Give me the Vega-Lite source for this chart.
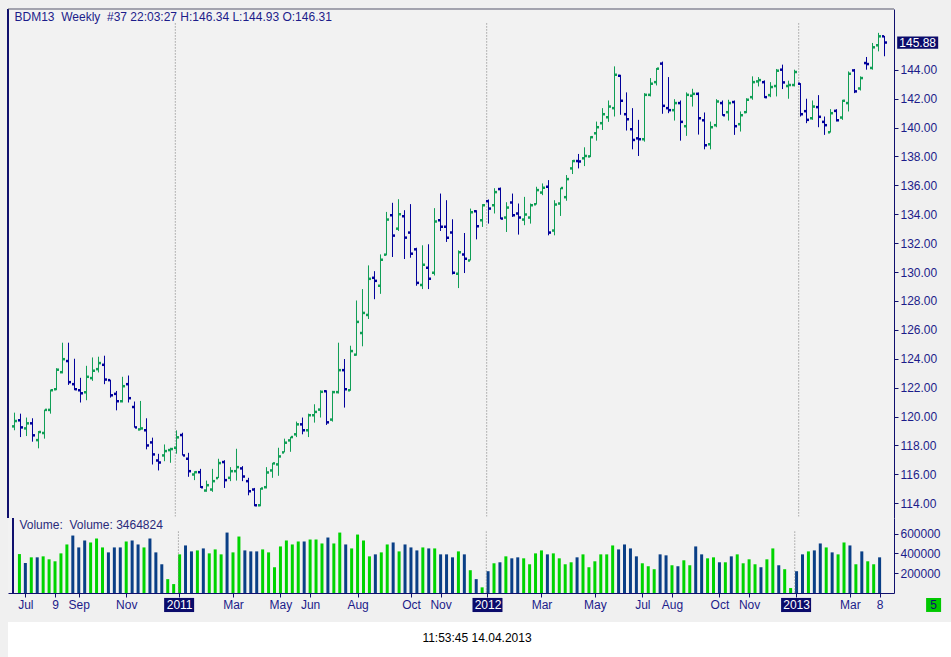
{
"$schema": "https://vega.github.io/schema/vega-lite/v6.json",
"background": "#f0f0f0",
"padding": {"left": 7, "top": 8, "right": 0, "bottom": 0},
"config": {"view": {"fill": "#f2f2f2", "stroke": null}, "font": "Liberation Sans"},
"datasets": {"bars": [
{"i":0,"o":119.32,"h":120.27,"l":119.05,"c":119.69,"v":393000},
{"i":1,"o":119.74,"h":120.2,"l":118.58,"c":119.25,"v":303000},
{"i":2,"o":119.18,"h":119.93,"l":118.65,"c":119.53,"v":360000},
{"i":3,"o":119.53,"h":119.88,"l":118.26,"c":118.7,"v":360000},
{"i":4,"o":118.37,"h":119.0,"l":117.8,"c":118.93,"v":370000},
{"i":5,"o":118.86,"h":120.48,"l":118.47,"c":120.46,"v":340000},
{"i":6,"o":120.46,"h":121.87,"l":120.2,"c":121.82,"v":320000},
{"i":7,"o":121.89,"h":123.35,"l":121.82,"c":123.24,"v":400000},
{"i":8,"o":123.07,"h":125.11,"l":122.98,"c":123.97,"v":490000},
{"i":9,"o":123.84,"h":125.11,"l":122.19,"c":122.38,"v":580000},
{"i":10,"o":122.24,"h":124.0,"l":121.82,"c":121.89,"v":460000},
{"i":11,"o":121.82,"h":122.68,"l":120.97,"c":121.61,"v":530000},
{"i":12,"o":121.68,"h":123.51,"l":121.13,"c":122.75,"v":510000},
{"i":13,"o":122.66,"h":124.09,"l":122.47,"c":123.17,"v":550000},
{"i":14,"o":123.28,"h":124.14,"l":123.05,"c":123.7,"v":460000},
{"i":15,"o":123.58,"h":124.21,"l":122.24,"c":122.56,"v":410000},
{"i":16,"o":122.52,"h":122.55,"l":121.31,"c":121.47,"v":460000},
{"i":17,"o":121.57,"h":121.77,"l":120.43,"c":121.06,"v":460000},
{"i":18,"o":121.06,"h":122.75,"l":120.97,"c":122.1,"v":520000},
{"i":19,"o":122.24,"h":122.84,"l":120.97,"c":121.27,"v":530000},
{"i":20,"o":120.66,"h":121.04,"l":119.23,"c":119.25,"v":490000},
{"i":21,"o":119.11,"h":121.08,"l":119.05,"c":119.18,"v":460000},
{"i":22,"o":119.05,"h":119.88,"l":117.73,"c":118.0,"v":550000},
{"i":23,"o":118.21,"h":118.54,"l":116.68,"c":117.38,"v":410000},
{"i":24,"o":116.96,"h":117.42,"l":116.27,"c":116.82,"v":290000},
{"i":25,"o":117.31,"h":118.07,"l":116.91,"c":117.61,"v":140000},
{"i":26,"o":117.68,"h":117.84,"l":116.8,"c":117.75,"v":90000},
{"i":27,"o":117.84,"h":119.04,"l":117.43,"c":118.56,"v":390000},
{"i":28,"o":118.72,"h":118.88,"l":117.3,"c":117.31,"v":480000},
{"i":29,"o":117.08,"h":117.49,"l":115.83,"c":116.22,"v":420000},
{"i":30,"o":115.99,"h":116.22,"l":115.6,"c":116.15,"v":430000},
{"i":31,"o":116.15,"h":116.38,"l":115.06,"c":115.11,"v":450000},
{"i":32,"o":114.88,"h":115.57,"l":114.79,"c":115.25,"v":400000},
{"i":33,"o":114.95,"h":116.38,"l":114.79,"c":115.53,"v":440000},
{"i":34,"o":115.74,"h":117.08,"l":115.74,"c":116.78,"v":390000},
{"i":35,"o":116.85,"h":116.98,"l":115.06,"c":115.6,"v":610000},
{"i":36,"o":115.76,"h":116.5,"l":115.53,"c":116.22,"v":410000},
{"i":37,"o":116.22,"h":117.77,"l":115.57,"c":116.5,"v":570000},
{"i":38,"o":116.41,"h":116.57,"l":115.53,"c":115.85,"v":430000},
{"i":39,"o":115.53,"h":115.76,"l":114.55,"c":114.83,"v":420000},
{"i":40,"o":114.95,"h":115.06,"l":113.79,"c":113.86,"v":420000},
{"i":41,"o":113.86,"h":115.06,"l":113.79,"c":115.02,"v":440000},
{"i":42,"o":115.11,"h":116.5,"l":115.02,"c":116.13,"v":410000},
{"i":43,"o":116.27,"h":116.8,"l":115.76,"c":116.76,"v":260000},
{"i":44,"o":116.69,"h":117.84,"l":115.9,"c":117.24,"v":470000},
{"i":45,"o":117.52,"h":118.47,"l":117.52,"c":118.19,"v":530000},
{"i":46,"o":118.35,"h":118.6,"l":117.56,"c":118.58,"v":490000},
{"i":47,"o":118.77,"h":119.65,"l":118.58,"c":119.46,"v":520000},
{"i":48,"o":119.46,"h":119.93,"l":118.77,"c":119.05,"v":520000},
{"i":49,"o":119.05,"h":120.2,"l":118.58,"c":120.09,"v":540000},
{"i":50,"o":120.09,"h":120.85,"l":119.58,"c":120.32,"v":540000},
{"i":51,"o":120.48,"h":121.82,"l":119.93,"c":121.71,"v":500000},
{"i":52,"o":121.75,"h":121.82,"l":119.42,"c":119.6,"v":560000},
{"i":53,"o":119.79,"h":121.78,"l":119.65,"c":121.69,"v":500000},
{"i":54,"o":121.69,"h":125.11,"l":121.59,"c":123.21,"v":610000},
{"i":55,"o":123.21,"h":123.98,"l":120.62,"c":121.89,"v":490000},
{"i":56,"o":121.82,"h":124.9,"l":121.78,"c":124.53,"v":450000},
{"i":57,"o":124.28,"h":128.03,"l":124.21,"c":126.55,"v":590000},
{"i":58,"o":125.78,"h":128.82,"l":124.86,"c":127.17,"v":530000},
{"i":59,"o":127.03,"h":130.46,"l":126.75,"c":129.53,"v":370000},
{"i":60,"o":129.6,"h":130.06,"l":128.12,"c":129.39,"v":390000},
{"i":61,"o":129.05,"h":131.22,"l":128.49,"c":130.85,"v":410000},
{"i":62,"o":131.2,"h":134.16,"l":131.15,"c":133.63,"v":490000},
{"i":63,"o":133.93,"h":134.79,"l":131.04,"c":132.52,"v":510000},
{"i":64,"o":133.0,"h":135.04,"l":132.84,"c":134.0,"v":420000},
{"i":65,"o":133.86,"h":134.28,"l":130.9,"c":132.38,"v":490000},
{"i":66,"o":132.73,"h":134.7,"l":130.99,"c":131.27,"v":460000},
{"i":67,"o":131.57,"h":131.68,"l":129.05,"c":129.25,"v":430000},
{"i":68,"o":129.11,"h":131.85,"l":128.82,"c":130.5,"v":460000},
{"i":69,"o":130.3,"h":131.92,"l":128.82,"c":129.53,"v":450000},
{"i":70,"o":129.95,"h":134.42,"l":129.76,"c":133.49,"v":450000},
{"i":71,"o":133.58,"h":135.43,"l":132.84,"c":133.14,"v":390000},
{"i":72,"o":133.14,"h":134.97,"l":132.08,"c":132.38,"v":390000},
{"i":73,"o":132.73,"h":133.65,"l":129.83,"c":129.95,"v":360000},
{"i":74,"o":129.88,"h":131.5,"l":128.89,"c":131.36,"v":420000},
{"i":75,"o":131.22,"h":132.7,"l":129.93,"c":130.92,"v":390000},
{"i":76,"o":130.8,"h":134.39,"l":130.8,"c":134.14,"v":230000},
{"i":77,"o":134.21,"h":134.28,"l":132.26,"c":133.17,"v":140000},
{"i":78,"o":133.58,"h":134.7,"l":133.12,"c":134.62,"v":57000},
{"i":79,"o":134.9,"h":135.02,"l":133.35,"c":134.39,"v":220000},
{"i":80,"o":134.62,"h":135.8,"l":134.05,"c":135.53,"v":300000},
{"i":81,"o":135.74,"h":135.85,"l":133.65,"c":133.7,"v":310000},
{"i":82,"o":133.77,"h":134.83,"l":132.77,"c":134.46,"v":370000},
{"i":83,"o":134.81,"h":135.43,"l":133.81,"c":133.93,"v":350000},
{"i":84,"o":134.05,"h":134.74,"l":132.59,"c":133.77,"v":360000},
{"i":85,"o":133.63,"h":135.2,"l":133.24,"c":133.98,"v":350000},
{"i":86,"o":133.77,"h":134.74,"l":133.35,"c":134.62,"v":290000},
{"i":87,"o":134.69,"h":135.9,"l":134.67,"c":135.67,"v":400000},
{"i":88,"o":135.5,"h":136.13,"l":135.32,"c":135.83,"v":430000},
{"i":89,"o":135.9,"h":136.36,"l":132.54,"c":132.73,"v":390000},
{"i":90,"o":132.87,"h":134.97,"l":132.54,"c":134.67,"v":400000},
{"i":91,"o":134.74,"h":135.83,"l":133.88,"c":135.81,"v":350000},
{"i":92,"o":135.18,"h":136.71,"l":134.93,"c":136.43,"v":290000},
{"i":93,"o":137.17,"h":137.75,"l":136.78,"c":137.68,"v":310000},
{"i":94,"o":137.68,"h":138.17,"l":137.17,"c":137.65,"v":360000},
{"i":95,"o":137.87,"h":138.63,"l":137.33,"c":138.03,"v":390000},
{"i":96,"o":138.0,"h":139.4,"l":137.95,"c":139.33,"v":260000},
{"i":97,"o":139.6,"h":140.41,"l":139.09,"c":140.02,"v":320000},
{"i":98,"o":140.3,"h":141.34,"l":139.83,"c":140.92,"v":390000},
{"i":99,"o":140.71,"h":141.87,"l":140.39,"c":141.45,"v":390000},
{"i":100,"o":141.34,"h":144.23,"l":140.76,"c":143.65,"v":480000},
{"i":101,"o":143.58,"h":143.65,"l":140.88,"c":141.85,"v":440000},
{"i":102,"o":140.92,"h":142.43,"l":139.79,"c":140.57,"v":490000},
{"i":103,"o":139.88,"h":141.34,"l":138.49,"c":139.14,"v":450000},
{"i":104,"o":139.25,"h":140.53,"l":138.03,"c":139.19,"v":370000},
{"i":105,"o":139.19,"h":142.38,"l":139.02,"c":142.26,"v":300000},
{"i":106,"o":142.26,"h":143.42,"l":142.15,"c":143.03,"v":270000},
{"i":107,"o":143.14,"h":144.12,"l":142.91,"c":144.07,"v":240000},
{"i":108,"o":144.42,"h":144.56,"l":140.95,"c":141.5,"v":390000},
{"i":109,"o":141.34,"h":143.49,"l":140.99,"c":141.2,"v":380000},
{"i":110,"o":141.2,"h":141.96,"l":140.48,"c":141.69,"v":280000},
{"i":111,"o":141.69,"h":141.87,"l":139.09,"c":140.39,"v":270000},
{"i":112,"o":140.09,"h":142.43,"l":139.42,"c":142.26,"v":330000},
{"i":113,"o":142.2,"h":142.68,"l":141.45,"c":142.33,"v":280000},
{"i":114,"o":142.33,"h":142.43,"l":139.51,"c":140.64,"v":470000},
{"i":115,"o":140.5,"h":141.04,"l":138.49,"c":138.77,"v":390000},
{"i":116,"o":138.84,"h":140.41,"l":138.49,"c":140.02,"v":350000},
{"i":117,"o":140.16,"h":141.96,"l":140.02,"c":141.8,"v":360000},
{"i":118,"o":141.69,"h":141.87,"l":140.81,"c":140.85,"v":310000},
{"i":119,"o":141.06,"h":141.92,"l":140.48,"c":141.69,"v":310000},
{"i":120,"o":141.76,"h":141.87,"l":139.49,"c":140.09,"v":370000},
{"i":121,"o":140.23,"h":141.11,"l":139.72,"c":140.85,"v":390000},
{"i":122,"o":141.06,"h":142.03,"l":140.99,"c":141.92,"v":300000},
{"i":123,"o":142.1,"h":143.54,"l":141.92,"c":143.14,"v":340000},
{"i":124,"o":143.19,"h":143.49,"l":142.84,"c":143.28,"v":290000},
{"i":125,"o":143.14,"h":143.26,"l":142.03,"c":142.1,"v":260000},
{"i":126,"o":142.24,"h":143.14,"l":142.1,"c":142.8,"v":340000},
{"i":127,"o":142.87,"h":144.05,"l":142.15,"c":143.93,"v":450000},
{"i":128,"o":144.0,"h":144.35,"l":142.66,"c":143.12,"v":280000},
{"i":129,"o":142.87,"h":143.24,"l":141.99,"c":142.94,"v":240000},
{"i":130,"o":142.94,"h":144.0,"l":142.84,"c":143.84,"v":50000},
{"i":131,"o":143.03,"h":143.07,"l":140.76,"c":140.92,"v":220000},
{"i":132,"o":141.13,"h":141.99,"l":140.3,"c":140.53,"v":390000},
{"i":133,"o":140.64,"h":141.87,"l":140.53,"c":141.45,"v":420000},
{"i":134,"o":141.41,"h":142.24,"l":140.02,"c":140.74,"v":430000},
{"i":135,"o":140.39,"h":140.76,"l":139.49,"c":140.16,"v":500000},
{"i":136,"o":139.67,"h":141.27,"l":139.65,"c":140.99,"v":460000},
{"i":137,"o":141.15,"h":141.27,"l":140.41,"c":140.5,"v":410000},
{"i":138,"o":140.69,"h":141.92,"l":140.53,"c":141.85,"v":390000},
{"i":139,"o":141.69,"h":143.88,"l":141.11,"c":143.72,"v":510000},
{"i":140,"o":143.95,"h":144.05,"l":142.38,"c":142.5,"v":480000},
{"i":141,"o":142.7,"h":143.54,"l":142.56,"c":143.42,"v":290000},
{"i":142,"o":144.46,"h":144.88,"l":144.0,"c":144.39,"v":420000},
{"i":143,"o":144.12,"h":145.85,"l":144.0,"c":145.55,"v":320000},
{"i":144,"o":145.69,"h":146.55,"l":145.27,"c":146.31,"v":290000},
{"i":145,"o":146.31,"h":146.34,"l":144.93,"c":145.88,"v":360000}
]},
"spacing": 9,
"vconcat": [
{
"spacing": 0,
"bounds": "flush",
"vconcat": [
{
"width": 886, "height": 509,
"layer": [
{"data": {"values": [{"yx": 26.8}, {"yx": 78.7}, {"yx": 130.7}]},
 "mark": {"type": "rule", "color": "#7a7a7a", "strokeDash": [1, 2], "strokeWidth": 1},
 "encoding": {
  "x": {"field": "yx", "type": "quantitative", "scale": {"domain": [-1.0833, 146.5833], "nice": false, "zero": false}, "axis": null},
  "y": {"datum": 147.2, "type": "quantitative", "scale": {"domain": [112.98, 148.2], "nice": false, "zero": false},
        "axis": {"orient": "right", "title": null, "values": [114,116,118,120,122,124,126,128,130,132,134,136,138,140,142,144], "tickCount": 40, "format": ".2f", "grid": false, "labelOverlap": false, "labelBound": false, "labelFlush": false, "domainColor": "#10106e", "tickColor": "#10106e", "tickSize": 4, "labelPadding": 2, "labelColor": "#1c1c8a", "labelFont": "Liberation Sans", "labelFontSize": 12}},
  "y2": {"datum": 113.1}}},
{"data": {"name": "bars"},
 "mark": {"type": "rule", "strokeWidth": 1},
 "encoding": {
  "x": {"field": "i", "type": "quantitative", "scale": {"domain": [-1.0833, 146.5833], "nice": false, "zero": false}, "axis": null},
  "y": {"field": "l", "type": "quantitative", "scale": {"domain": [112.98, 148.2], "nice": false, "zero": false}},
  "y2": {"field": "h"},
  "color": {"condition": {"test": "datum.c < datum.o", "value": "#00009a"}, "value": "#0f9e55"}}},
{"data": {"name": "bars"},
 "mark": {"type": "point", "shape": "M-1,-0.5H-0.2V0.5H-1Z", "filled": true, "opacity": 1, "size": 25, "strokeWidth": 0},
 "encoding": {
  "x": {"field": "i", "type": "quantitative", "scale": {"domain": [-1.0833, 146.5833], "nice": false, "zero": false}, "axis": null},
  "y": {"field": "o", "type": "quantitative", "scale": {"domain": [112.98, 148.2], "nice": false, "zero": false}},
  "color": {"condition": {"test": "datum.c < datum.o", "value": "#00009a"}, "value": "#0f9e55"}}},
{"data": {"name": "bars"},
 "mark": {"type": "point", "shape": "M0.2,-0.5H1V0.5H0.2Z", "filled": true, "opacity": 1, "size": 25, "strokeWidth": 0},
 "encoding": {
  "x": {"field": "i", "type": "quantitative", "scale": {"domain": [-1.0833, 146.5833], "nice": false, "zero": false}, "axis": null},
  "y": {"field": "c", "type": "quantitative", "scale": {"domain": [112.98, 148.2], "nice": false, "zero": false}},
  "color": {"condition": {"test": "datum.c < datum.o", "value": "#00009a"}, "value": "#0f9e55"}}},
{"data": {"values": [{"edge": -1.0833}]},
 "mark": {"type": "rule", "color": "#10106e", "strokeWidth": 2},
 "encoding": {"x": {"field": "edge", "type": "quantitative", "scale": {"domain": [-1.0833, 146.5833], "nice": false, "zero": false}, "axis": null}}},
{"data": {"values": [{"top": 148.2}]},
 "mark": {"type": "rule", "color": "#55556a", "strokeWidth": 1},
 "encoding": {"y": {"field": "top", "type": "quantitative", "scale": {"domain": [112.98, 148.2], "nice": false, "zero": false}}}},
{"data": {"values": [{"t": "BDM13\u00a0 Weekly\u00a0 #37 22:03:27 H:146.34 L:144.93 O:146.31", "x": 0, "y": 147.66}]},
 "mark": {"type": "text", "align": "left", "baseline": "middle", "font": "Liberation Sans", "fontSize": 12, "color": "#1c1c8a"},
 "encoding": {
  "x": {"field": "x", "type": "quantitative", "scale": {"domain": [-1.0833, 146.5833], "nice": false, "zero": false}, "axis": null},
  "y": {"field": "y", "type": "quantitative", "scale": {"domain": [112.98, 148.2], "nice": false, "zero": false}},
  "text": {"field": "t"}}},
{"data": {"values": [{"x": 150.53, "p": 145.88, "t": "145.88"}]},
 "mark": {"type": "point", "shape": "M-1,-0.3H1V0.3H-1Z", "filled": true, "opacity": 1, "size": 1681, "color": "#0b0b6b", "clip": false},
 "encoding": {
  "x": {"field": "x", "type": "quantitative", "scale": {"domain": [-1.0833, 146.5833], "nice": false, "zero": false}, "axis": null},
  "y": {"field": "p", "type": "quantitative", "scale": {"domain": [112.98, 148.2], "nice": false, "zero": false}}}},
{"data": {"values": [{"x": 150.53, "p": 145.88, "t": "145.88"}]},
 "mark": {"type": "text", "align": "center", "baseline": "middle", "font": "Liberation Sans", "fontSize": 12, "color": "#ffffff", "clip": false},
 "encoding": {
  "x": {"field": "x", "type": "quantitative", "scale": {"domain": [-1.0833, 146.5833], "nice": false, "zero": false}, "axis": null},
  "y": {"field": "p", "type": "quantitative", "scale": {"domain": [112.98, 148.2], "nice": false, "zero": false}},
  "text": {"field": "t"}}}
]
},
{
"width": 886, "height": 75,
"layer": [
{"data": {"name": "bars"},
 "mark": {"type": "bar", "size": 3},
 "encoding": {
  "x": {"field": "i", "type": "quantitative", "scale": {"domain": [-1.0833, 146.5833], "nice": false, "zero": false},
        "axis": {"orient": "bottom", "title": null, "zindex": 1, "grid": false, "tickCount": 60,
                 "values": [1,6,10,18,26.92,36,44,49,57,66,71,78.9,88,97,105,110,118,123,130.92,140,145],
                 "labelExpr": "['Jul','9','Sep','Nov','2011','Mar','May','Jun','Aug','Oct','Nov','2012','Mar','May','Jul','Aug','Oct','Nov','2013','Mar','8'][indexof([1,6,10,18,26.92,36,44,49,57,66,71,78.9,88,97,105,110,118,123,130.92,140,145], datum.value)]",
                 "labelFlush": false, "labelOverlap": false, "labelBound": false,
                 "domainColor": "#10106e", "tickColor": "#10106e", "tickSize": 4, "labelPadding": 2,
                 "labelFont": "Liberation Sans", "labelFontSize": 12,
                 "labelColor": {"condition": {"test": "indexof([26.92,78.9,130.92], datum.value) >= 0", "value": "#ffffff"}, "value": "#1c1c8a"}}},
  "y": {"field": "v", "type": "quantitative", "scale": {"domain": [0, 757000], "nice": false},
        "axis": {"orient": "right", "title": null, "values": [200000, 400000, 600000], "tickCount": 10, "format": "d", "grid": false, "labelOverlap": false, "labelBound": false, "labelFlush": false, "domainColor": "#10106e", "tickColor": "#10106e", "tickSize": 4, "labelPadding": 2, "labelColor": "#1c1c8a", "labelFont": "Liberation Sans", "labelFontSize": 12}},
  "color": {"condition": {"test": "datum.c < datum.o", "value": "#0a3f86"}, "value": "#00d400"}}},
{"data": {"values": [{"yx": 26.8}, {"yx": 78.7}, {"yx": 130.7}]},
 "mark": {"type": "rule", "color": "#7a7a7a", "strokeDash": [1, 2], "strokeWidth": 1},
 "encoding": {
  "x": {"field": "yx", "type": "quantitative", "scale": {"domain": [-1.0833, 146.5833], "nice": false, "zero": false}},
  "y": {"datum": 620000, "type": "quantitative", "scale": {"domain": [0, 757000], "nice": false}},
  "y2": {"datum": 0}}},
{"data": {"values": [{"yr": 26.92}, {"yr": 78.9}, {"yr": 130.92}]},
 "mark": {"type": "point", "shape": "M-1,-0.47H1V0.47H-1Z", "filled": true, "opacity": 1, "size": 900, "color": "#0b0b6b", "clip": false},
 "encoding": {
  "x": {"field": "yr", "type": "quantitative", "scale": {"domain": [-1.0833, 146.5833], "nice": false, "zero": false}},
  "y": {"datum": -121000, "type": "quantitative", "scale": {"domain": [0, 757000], "nice": false}}}},
{"data": {"values": [{"x": 154.1, "t": "5"}]},
 "mark": {"type": "point", "shape": "M-1,-0.93H1V0.93H-1Z", "filled": true, "opacity": 1, "size": 225, "color": "#00c800", "clip": false},
 "encoding": {
  "x": {"field": "x", "type": "quantitative", "scale": {"domain": [-1.0833, 146.5833], "nice": false, "zero": false}},
  "y": {"datum": -121000, "type": "quantitative", "scale": {"domain": [0, 757000], "nice": false}}}},
{"data": {"values": [{"x": 154.1, "t": "5"}]},
 "mark": {"type": "text", "align": "center", "baseline": "middle", "font": "Liberation Sans", "fontSize": 12, "color": "#10106e", "clip": false},
 "encoding": {
  "x": {"field": "x", "type": "quantitative", "scale": {"domain": [-1.0833, 146.5833], "nice": false, "zero": false}},
  "y": {"datum": -121000, "type": "quantitative", "scale": {"domain": [0, 757000], "nice": false}},
  "text": {"field": "t"}}},
{"data": {"values": [{"edge": -1.0833}]},
 "mark": {"type": "rule", "color": "#10106e", "strokeWidth": 2},
 "encoding": {"x": {"field": "edge", "type": "quantitative", "scale": {"domain": [-1.0833, 146.5833], "nice": false, "zero": false}}}},
{"data": {"values": [{"t": "Volume:\u00a0 Volume: 3464824", "x": 0, "y": 686000}]},
 "mark": {"type": "text", "align": "left", "baseline": "middle", "font": "Liberation Sans", "fontSize": 12, "color": "#2a2a7a"},
 "encoding": {
  "x": {"field": "x", "type": "quantitative", "scale": {"domain": [-1.0833, 146.5833], "nice": false, "zero": false}},
  "y": {"field": "y", "type": "quantitative", "scale": {"domain": [0, 757000], "nice": false}},
  "text": {"field": "t"}}}
]
}
]
},
{
"width": 944, "height": 36,
"view": {"fill": "#ffffff", "stroke": null},
"data": {"values": [{"x": 469, "y": 20, "t": "11:53:45 14.04.2013"}]},
"mark": {"type": "text", "align": "center", "baseline": "middle", "font": "Liberation Sans", "fontSize": 12, "color": "#000000"},
"encoding": {
 "x": {"field": "x", "type": "quantitative", "scale": {"domain": [0, 944]}, "axis": null},
 "y": {"field": "y", "type": "quantitative", "scale": {"domain": [0, 36]}, "axis": null},
 "text": {"field": "t"}}
}
]
}
